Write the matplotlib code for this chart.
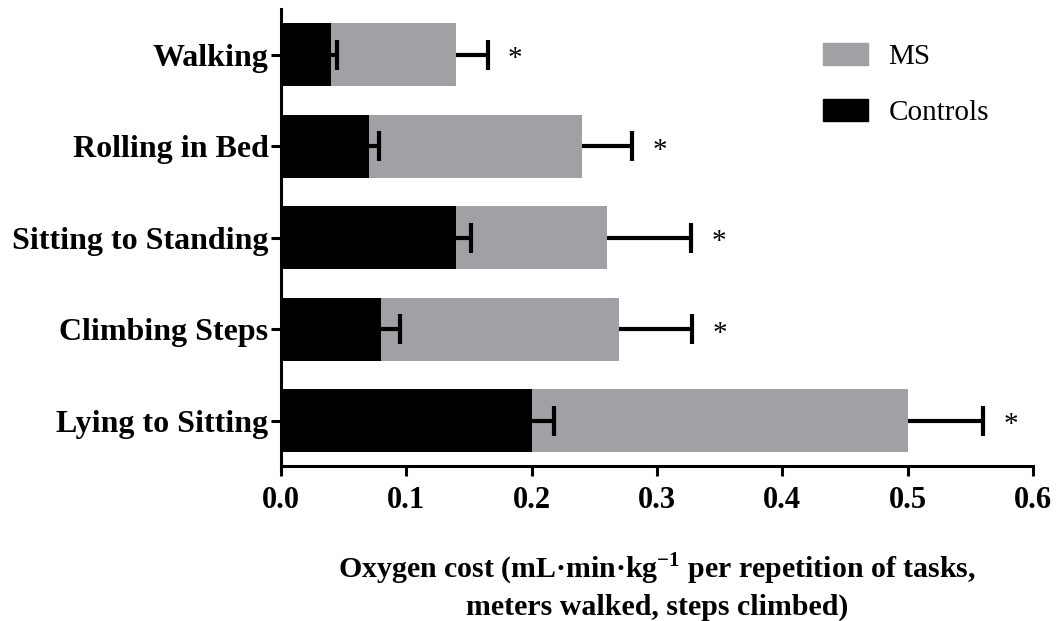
import matplotlib
import matplotlib.patches
import matplotlib.pyplot as plt
import numpy as np

matplotlib.rcParams["font.family"] = ["Liberation Serif", "DejaVu Serif"]
matplotlib.rcParams["mathtext.fontset"] = "custom"
matplotlib.rcParams["mathtext.rm"] = "Liberation Serif"
matplotlib.rcParams["mathtext.bf"] = "Liberation Serif:bold"

# Tasks, top to bottom
tasks = ["Walking", "Rolling in Bed", "Sitting to Standing", "Climbing Steps", "Lying to Sitting"]
ms_mean = [0.14, 0.24, 0.26, 0.27, 0.50]
ms_err = [0.025, 0.04, 0.067, 0.058, 0.06]
ctrl_mean = [0.04, 0.07, 0.14, 0.08, 0.20]
ctrl_err = [0.005, 0.008, 0.012, 0.015, 0.018]
significant = [True, True, True, True, True]
xticks = [0.0, 0.1, 0.2, 0.3, 0.4, 0.5, 0.6]

ms_gray = "#a1a1a5"
black = "#000000"

fig = plt.figure(figsize=(10.63, 6.21), dpi=100)
ax = fig.add_axes([0.2643, 0.2488, 0.7075, 0.7367])

y = np.arange(len(tasks))[::-1]
height = 0.69

ax.barh(y, ms_mean, height, color=ms_gray, label="MS", zorder=2)
ax.barh(y, ctrl_mean, height, color=black, label="Controls", zorder=3)

# one-sided error bars: drop the cap on the bar end
err_style = dict(fmt="none", ecolor=black, elinewidth=3, capsize=10.5, capthick=3, zorder=4)
for mean, err in [(ms_mean, ms_err), (ctrl_mean, ctrl_err)]:
    _, caps, _ = ax.errorbar(mean, y, xerr=[np.zeros(len(y)), err], **err_style)
    caps[0].set_visible(False)

for yi, m, e, s in zip(y, ms_mean, ms_err, significant):
    if s:
        ax.text(m + e + 0.022, yi - 0.05, "*", fontsize=21, ha="center", va="center")

ax.set_xlim(0, 0.6)
ax.set_ylim(-0.5, len(tasks) - 0.5)
ax.set_xticks(xticks)
ax.set_xticklabels([f"{t:.1f}" for t in xticks], fontweight="bold", fontsize=22)
ax.set_yticks(y)
ax.set_yticklabels(tasks, fontweight="bold", fontsize=23)

for side in ["top", "right"]:
    ax.spines[side].set_visible(False)
for side in ["left", "bottom"]:
    ax.spines[side].set_linewidth(2.2)
ax.tick_params(axis="both", direction="out", length=7, width=2.2)
ax.tick_params(axis="y", pad=2)
ax.tick_params(axis="x", pad=7)

ax.set_xlabel(
    "Oxygen cost (mL·min·kg$^{\\mathbf{-1}}$ per repetition of tasks,\nmeters walked, steps climbed)",
    fontweight="bold",
    fontsize=21.5,
    labelpad=26,
    linespacing=1.3,
)

ms_patch = matplotlib.patches.Patch(color=ms_gray, label="MS")
ctrl_patch = matplotlib.patches.Patch(color=black, label="Controls")
fig.legend(
    handles=[ms_patch, ctrl_patch],
    loc="upper left",
    bbox_to_anchor=(0.7605, 0.955),
    frameon=False,
    fontsize=21,
    handlelength=1.55,
    handleheight=0.8,
    handletextpad=0.7,
    labelspacing=1.0,
    borderpad=0,
)

fig.savefig("out.png", dpi=100)
